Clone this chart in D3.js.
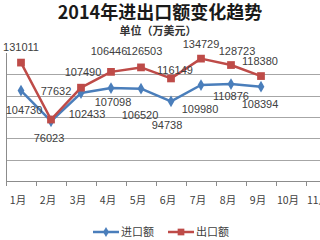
<html>
  <head>
    <style>
      body {
        margin: 0;
        background: #fff;
        font-family: "Noto Sans CJK SC", "DejaVu Sans", sans-serif;
      }
      svg {
        display: block;
      }
      .title {
        font-size: 18px;
        font-weight: bold;
        text-anchor: middle;
        fill: #1a1a1a;
      }
      .subtitle {
        font-size: 11px;
        font-weight: bold;
        text-anchor: middle;
        fill: #333;
      }
      .val {
        font-size: 11px;
        fill: #404040;
        text-anchor: middle;
        font-family: "Liberation Sans", Arial, sans-serif;
      }
      .xlab {
        font-size: 10.5px;
        fill: #404040;
        text-anchor: middle;
      }
      .legend {
        font-size: 11px;
        fill: #404040;
      }
    </style>
  </head>
  <body>
    <script src="https://d3js.org/d3.v7.min.js"></script>
    <script>
      const months = ["1月", "2月", "3月", "4月", "5月", "6月", "7月", "8月", "9月", "10月", "11月", "12月"];
      const importVals = [104730, 76023, 102433, 107098, 106520, 94738, 109980, 110876, 108394];
      const exportVals = [131011, 77632, 107490, 122300, 126503, 116149, 134729, 128723, 118380];
      // data labels as printed on the chart (April export label differs from its point)
      const importLabels = ["104730", "76023", "102433", "107098", "106520", "94738", "109980", "110876", "108394"];
      const exportLabels = ["131011", "77632", "107490", "106446", "126503", "116149", "134729", "128723", "118380"];
      const yTicks = [20000, 40000, 60000, 80000, 100000, 120000];

      // hand-placed label nudges (px, relative to the point)
      const importNudge = [[3, 19], [-2, 17], [6, 21], [2, 14], [-1, 26], [-4, 24], [-1, 24], [0, 12], [-1, 17]];
      const exportNudge = [[0, -16], [5, -29], [2, -16], [-2, -21], [3, -16], [4, -8], [0, -15], [6, -14], [-1, -15]];

      const width = 320, height = 240;
      const svg = d3.select("body").append("svg").attr("width", width).attr("height", height);

      svg.append("text").attr("class", "title").attr("x", 160).attr("y", 19).text("2014年进出口额变化趋势");
      svg.append("text").attr("class", "subtitle").attr("x", 158).attr("y", 35).text("单位（万美元）");

      const x = d3.scaleBand().domain(months).range([6, 6 + 30 * months.length]);
      const y = d3.scaleLinear().domain([20000, 140000]).range([181, 53]);

      // gridlines
      svg.append("g")
        .selectAll("line")
        .data(yTicks.slice(1))
        .join("line")
        .attr("x1", 6)
        .attr("x2", width)
        .attr("y1", (d) => Math.round(y(d)) + 0.5)
        .attr("y2", (d) => Math.round(y(d)) + 0.5)
        .attr("stroke", "#a6a6a6")
        .attr("stroke-width", 1);

      // left axis line
      svg.append("line")
        .attr("x1", 6.5).attr("x2", 6.5)
        .attr("y1", y(140000)).attr("y2", 181)
        .attr("stroke", "#8c8c8c");

      // x axis
      const xAxis = svg.append("g");
      xAxis.append("line")
        .attr("x1", 6).attr("x2", width)
        .attr("y1", 181.5).attr("y2", 181.5)
        .attr("stroke", "#8c8c8c");
      xAxis.selectAll(".tk")
        .data(months)
        .join("line")
        .attr("class", "tk")
        .attr("x1", (d) => Math.round(x(d)) + 0.5)
        .attr("x2", (d) => Math.round(x(d)) + 0.5)
        .attr("y1", 181)
        .attr("y2", 186)
        .attr("stroke", "#8c8c8c");
      xAxis.selectAll(".xlab")
        .data(months)
        .join("text")
        .attr("class", "xlab")
        .attr("x", (d) => x(d) + x.bandwidth() / 2 - 3)
        .attr("y", 204)
        .text((d) => d);

      const cx = (i) => x(months[i]) + x.bandwidth() / 2;
      const line = d3.line().x((d, i) => cx(i)).y((d) => y(d));

      const series = [
        { vals: importVals, labels: importLabels, nudge: importNudge, color: "#4a7ebb", shape: d3.symbolDiamond, size: 40 },
        { vals: exportVals, labels: exportLabels, nudge: exportNudge, color: "#be4b48", shape: d3.symbolSquare, size: 60 },
      ];

      series.forEach((s) => {
        svg.append("path")
          .datum(s.vals)
          .attr("d", line)
          .attr("fill", "none")
          .attr("stroke", s.color)
          .attr("stroke-width", 2.5)
          .attr("stroke-linejoin", "round");
        svg.append("g")
          .selectAll("path")
          .data(s.vals)
          .join("path")
          .attr("d", d3.symbol().type(s.shape).size(s.size))
          .attr("transform", (d, i) => `translate(${cx(i)},${y(d)})`)
          .attr("fill", s.color);
      });

      series.forEach((s) => {
        svg.append("g")
          .selectAll("text")
          .data(s.vals)
          .join("text")
          .attr("class", "val")
          .attr("x", (d, i) => cx(i) + s.nudge[i][0])
          .attr("y", (d, i) => y(d) + s.nudge[i][1] + 4)
          .text((d, i) => s.labels[i]);
      });

      // legend
      const legend = svg.append("g").attr("transform", "translate(0,232)");
      const items = [
        { name: "进口额", color: "#4a7ebb", shape: d3.symbolDiamond, size: 30, x: 93 },
        { name: "出口额", color: "#be4b48", shape: d3.symbolSquare, size: 45, x: 168 },
      ];
      items.forEach((it) => {
        legend.append("line")
          .attr("x1", it.x).attr("x2", it.x + 26)
          .attr("y1", 0).attr("y2", 0)
          .attr("stroke", it.color).attr("stroke-width", 2.5);
        legend.append("path")
          .attr("d", d3.symbol().type(it.shape).size(it.size))
          .attr("transform", `translate(${it.x + 13},0)`)
          .attr("fill", it.color);
        legend.append("text")
          .attr("class", "legend")
          .attr("x", it.x + 28)
          .attr("y", 4)
          .text(it.name);
      });
    </script>
  </body>
</html>
